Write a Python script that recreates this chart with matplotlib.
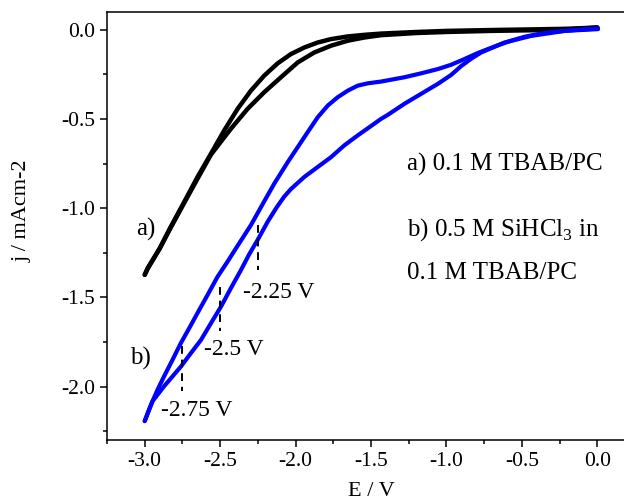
import numpy as np
import matplotlib.pyplot as plt
from matplotlib.ticker import MultipleLocator, FormatStrFormatter

plt.rcParams['font.family'] = ['Liberation Serif', 'DejaVu Serif']
plt.rcParams['mathtext.fontset'] = 'custom'
plt.rcParams['mathtext.rm'] = 'Liberation Serif'
plt.rcParams['axes.unicode_minus'] = False

# curve a) 0.1 M TBAB/PC, two scan branches from -3.0 V to 0.0 V
E_a_up = [-3.0, -2.981, -2.90, -2.840, -2.827, -2.738, -2.650, -2.561, -2.473,
          -2.384, -2.296, -2.208, -2.119, -2.031, -1.942, -1.853, -1.765, -1.654,
          -1.544, -1.433, -1.2, -1.0, -0.7, -0.4, -0.2, 0.0]
j_a_up = [-1.374, -1.337, -1.225, -1.125, -1.104, -0.965, -0.825, -0.695, -0.564,
          -0.443, -0.341, -0.257, -0.188, -0.136, -0.099, -0.071, -0.052, -0.037,
          -0.028, -0.021, -0.012, -0.006, -0.001, 0.003, 0.006, 0.013]
E_a_lo = [-3.0, -2.981, -2.90, -2.827, -2.738, -2.650, -2.561, -2.473, -2.429,
          -2.318, -2.208, -2.097, -1.986, -1.876, -1.765, -1.654, -1.544, -1.433,
          -1.2, -1.0, -0.7, -0.4, -0.2, 0.0]
j_a_lo = [-1.374, -1.34, -1.225, -1.108, -0.97, -0.835, -0.70, -0.603, -0.555,
          -0.443, -0.350, -0.266, -0.183, -0.127, -0.089, -0.061, -0.043, -0.030,
          -0.018, -0.012, -0.006, -0.002, 0.002, 0.013]

# curve b) 0.5 M SiHCl3 in 0.1 M TBAB/PC
E_b_up = [-3.0, -2.971, -2.948, -2.915, -2.871, -2.816, -2.760, -2.705, -2.650,
          -2.583, -2.517, -2.451, -2.395, -2.296, -2.22, -2.141, -2.052, -1.986,
          -1.920, -1.853, -1.787, -1.721, -1.654, -1.588, -1.522, -1.433, -1.279,
          -1.168, -1.057, -0.969, -0.881, -0.792, -0.725, -0.637, -0.571, -0.482,
          -0.393, -0.305, -0.217, -0.106, 0.005]
j_b_up = [-2.194, -2.130, -2.082, -2.018, -1.942, -1.851, -1.756, -1.673, -1.588,
          -1.486, -1.384, -1.300, -1.225, -1.095, -0.98, -0.862, -0.742, -0.658,
          -0.574, -0.490, -0.425, -0.378, -0.341, -0.313, -0.300, -0.290, -0.266,
          -0.244, -0.220, -0.196, -0.164, -0.130, -0.108, -0.080, -0.061, -0.039,
          -0.024, -0.013, -0.006, 0.002, 0.007]
E_b_lo = [-3.0, -2.971, -2.948, -2.871, -2.760, -2.694, -2.627, -2.561, -2.495,
          -2.429, -2.362, -2.307, -2.252, -2.185, -2.125, -2.075, -2.031, -1.942,
          -1.853, -1.765, -1.677, -1.588, -1.511, -1.433, -1.389, -1.279, -1.168,
          -1.057, -0.969, -0.902, -0.836, -0.770, -0.615, -0.438, -0.217, 0.005]
j_b_lo = [-2.194, -2.130, -2.082, -1.998, -1.888, -1.813, -1.739, -1.645, -1.553,
          -1.449, -1.347, -1.258, -1.179, -1.076, -0.995, -0.935, -0.893, -0.825,
          -0.769, -0.714, -0.648, -0.592, -0.546, -0.499, -0.477, -0.415, -0.359,
          -0.303, -0.253, -0.203, -0.162, -0.127, -0.071, -0.034, -0.006, 0.004]

# potential markers on curve b)
marker_E = [-2.25, -2.5, -2.75]
marker_top = [-1.095, -1.44, -1.775]
marker_bot = [-1.346, -1.69, -2.026]
marker_text = ['-2.25 V', '-2.5 V', '-2.75 V']
marker_text_xy = [(-2.349, -1.502), (-2.608, -1.822), (-2.893, -2.167)]

fig = plt.figure(figsize=(6.24, 5.0), dpi=100)
ax = fig.add_axes([107 / 624, 60 / 500, 528 / 624, 428 / 500])

line_kw = dict(solid_capstyle='round', solid_joinstyle='round')
ax.plot(E_a_up, j_a_up, color='black', lw=3.2, **line_kw)
ax.plot(E_a_lo, j_a_lo, color='black', lw=3.2, **line_kw)
ax.plot(E_b_up, j_b_up, color='#0000ff', lw=3.0, **line_kw)
ax.plot(E_b_lo, j_b_lo, color='#0000ff', lw=3.0, **line_kw)

for e, y0, y1 in zip(marker_E, marker_top, marker_bot):
    ax.plot([e, e], [y0, y1], color='black', lw=1.4, linestyle=(0, (4, 3)))
for txt, (x, y) in zip(marker_text, marker_text_xy):
    ax.text(x, y, txt, fontsize=17, va='baseline', ha='left')

ax.text(-3.059, -1.151, 'a)', fontsize=18, va='baseline')
ax.text(-3.099, -1.877, 'b)', fontsize=18, va='baseline')
ax.text(-1.261, -0.788, 'a) 0.1 M TBAB/PC', fontsize=18, va='baseline')
ax.text(-1.261, -1.151, 'b) 0.5 M SiHCl$_3$ in', fontsize=18, va='baseline')
ax.text(-1.261, -1.398, '0.1 M TBAB/PC', fontsize=18, va='baseline')

ax.set_xlim(-3.25, 0.25)
ax.set_ylim(-2.3, 0.1)
ax.xaxis.set_major_locator(MultipleLocator(0.5))
ax.xaxis.set_minor_locator(MultipleLocator(0.25))
ax.yaxis.set_major_locator(MultipleLocator(0.5))
ax.yaxis.set_minor_locator(MultipleLocator(0.25))
ax.xaxis.set_major_formatter(FormatStrFormatter('%.1f'))
ax.yaxis.set_major_formatter(FormatStrFormatter('%.1f'))
ax.tick_params(which='major', direction='out', length=5, width=1.1, labelsize=15.5)
ax.tick_params(which='minor', direction='out', length=3, width=1.1)
for s in ax.spines.values():
    s.set_linewidth(1.1)

ax.set_xlabel('E / V', fontsize=16, va='top')
ax.xaxis.set_label_coords(0.5, -0.097)
ax.set_ylabel('j / mAcm-2', fontsize=16)
ax.yaxis.set_label_coords(-0.142, 0.535)

plt.savefig('out.png', dpi=100)
plt.close()
